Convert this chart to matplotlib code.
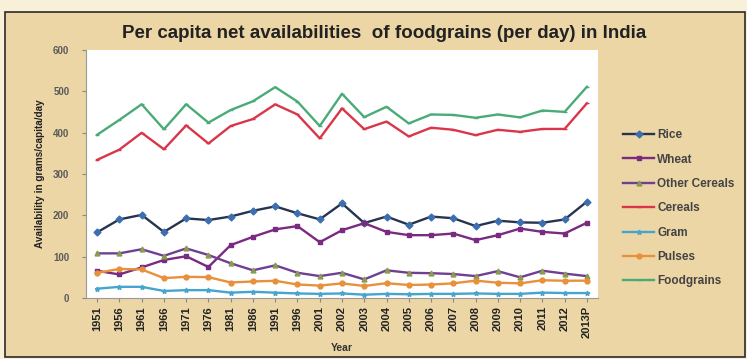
import matplotlib
matplotlib.use("Agg")
import matplotlib.pyplot as plt
from matplotlib.patches import Rectangle

plt.rcParams["font.family"] = ["Liberation Sans", "DejaVu Sans"]

years = ["1951", "1956", "1961", "1966", "1971", "1976", "1981", "1986", "1991", "1996",
         "2001", "2002", "2003", "2004", "2005", "2006", "2007", "2008", "2009", "2010",
         "2011", "2012", "2013P"]

rice = [158.9, 190.2, 201.1, 159.8, 192.6, 188.6, 197.1, 211.0, 221.7, 205.0,
        190.2, 228.9, 181.4, 197.1, 177.3, 197.0, 193.0, 174.0, 187.0, 183.0,
        182.0, 190.0, 233.0]
wheat = [65.7, 57.0, 74.0, 92.0, 101.0, 75.0, 128.0, 148.0, 166.0, 174.0,
         135.0, 164.0, 181.0, 160.0, 152.0, 152.0, 156.0, 140.0, 152.0, 168.0,
         160.0, 156.0, 182.0]
other_cereals = [108.0, 108.0, 118.0, 102.0, 120.0, 104.0, 84.0, 67.0, 79.0, 61.0,
                 53.0, 61.0, 45.0, 67.0, 61.0, 60.0, 58.0, 53.0, 65.0, 50.0,
                 66.0, 59.0, 53.0]
cereals = [334.2, 359.0, 399.7, 359.9, 417.6, 373.8, 416.2, 433.0, 468.5, 444.0,
           386.2, 458.7, 408.5, 426.9, 390.9, 412.0, 407.0, 394.0, 407.0, 402.0,
           409.0, 409.0, 471.0]
gram = [22.5, 27.0, 27.0, 17.0, 19.0, 19.0, 13.0, 15.0, 13.0, 11.0,
        10.0, 11.0, 8.0, 10.0, 9.0, 10.0, 10.0, 11.0, 10.0, 10.0,
        13.0, 12.0, 12.0]
pulses = [60.7, 70.3, 69.0, 48.2, 51.2, 50.5, 37.5, 40.0, 41.6, 32.7,
          30.0, 35.4, 29.1, 35.8, 31.5, 32.5, 35.5, 42.0, 37.0, 35.4,
          43.0, 41.7, 42.0]
foodgrains = [394.9, 430.9, 468.7, 408.1, 468.8, 424.3, 454.8, 476.0, 510.1, 475.2,
              416.2, 494.1, 437.6, 462.7, 422.4, 444.0, 443.0, 436.0, 444.0, 437.0,
              453.6, 450.3, 511.0]

series = [
    ("Rice", rice, "#27344f", "D", "#3d6fb0"),
    ("Wheat", wheat, "#7a2a80", "s", "#7a2a80"),
    ("Other Cereals", other_cereals, "#6f3f93", "^", "#8a9a50"),
    ("Cereals", cereals, "#d9364a", "_", "#d9364a"),
    ("Gram", gram, "#45a5cf", "*", "#45a5cf"),
    ("Pulses", pulses, "#e8903a", "o", "#e8903a"),
    ("Foodgrains", foodgrains, "#4aab78", "_", "#4aab78"),
]

fig = plt.figure(figsize=(7.47, 3.59), dpi=100)
fig.patch.set_facecolor("#f8f0d8")
fig.patches.append(Rectangle((5 / 747, 2 / 359), 740 / 747, 345 / 359,
                             transform=fig.transFigure, facecolor="#ecd6a5",
                             edgecolor="#2b2b2b", linewidth=1.2, zorder=-10))

ax = fig.add_axes([86 / 747, 1 - 298 / 359, 512 / 747, 248 / 359])
ax.set_zorder(5)
ax.set_facecolor("white")
x = list(range(len(years)))
for name, vals, col, mk, mcol in series:
    ax.plot(x, vals, color=col, linewidth=1.7, marker=mk, markersize=3.5,
            markerfacecolor=mcol, markeredgecolor=mcol, label=name)

ax.set_xlim(-0.5, len(years) - 0.5)
ax.set_ylim(0, 600)
ax.set_yticks(range(0, 601, 100))
ax.set_xticks(x)
ax.set_xticklabels(years, rotation=90, fontsize=8, fontweight="bold", color="#222222")
ax.tick_params(axis="y", labelsize=7, labelcolor="#5a5a5a", length=3, color="#888888", pad=9)
ax.tick_params(axis="x", length=3, color="#888888", pad=3)
for lab in ax.get_yticklabels():
    lab.set_fontweight("bold")
for s in ax.spines.values():
    s.set_visible(False)
ax.spines["left"].set_visible(True)
ax.spines["left"].set_color("#999999")
ax.spines["bottom"].set_visible(True)
ax.spines["bottom"].set_color("#999999")

ax.set_ylabel("Availability in grams/capita/day", fontsize=7.2, fontweight="bold",
              color="#222222", labelpad=6)
ax.set_xlabel("Year", fontsize=7.5, fontweight="bold", color="#333333", labelpad=3)

fig.text(384 / 747, 1 - 33 / 359,
         "Per capita net availabilities  of foodgrains (per day) in India",
         ha="center", va="center", fontsize=13.5, fontweight="bold", color="#222222")

leg = ax.legend(loc="upper left", bbox_to_anchor=(1.04, 0.70), frameon=False,
                fontsize=8.5, labelspacing=1.05, handlelength=2.6, handletextpad=0.3,
                borderaxespad=0)
for t in leg.get_texts():
    t.set_fontweight("bold")
    t.set_color("#444444")

fig.savefig("out.png", dpi=100, facecolor=fig.get_facecolor())
